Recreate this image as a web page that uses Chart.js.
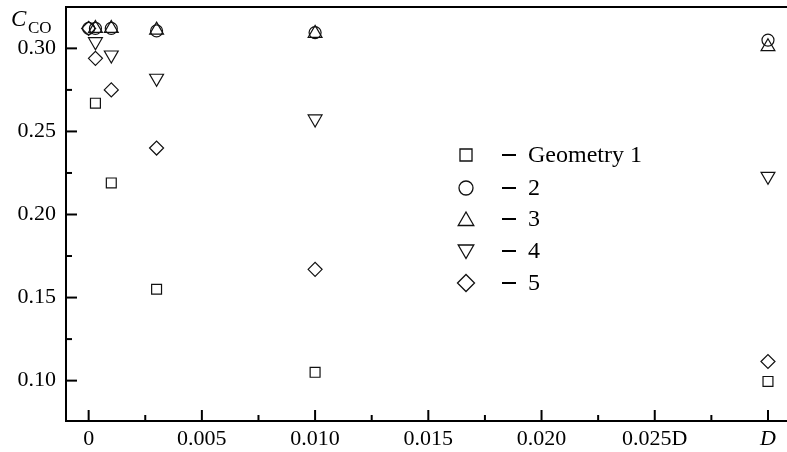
<!DOCTYPE html>
<html>
<head>
<meta charset="utf-8">
<script src="https://cdn.jsdelivr.net/npm/chart.js@4/dist/chart.umd.min.js"></script>
<style>
  html, body { margin: 0; padding: 0; background: #fff; }
  canvas { display: block; }
</style>
</head>
<body>
<canvas id="c" width="787" height="452"></canvas>
<script>
// ---- data ----
const xValues = [0, 0.0003, 0.001, 0.003, 0.010, 0.030];
const seriesLabels = ["Geometry 1", "2", "3", "4", "5"];
const geometry1 = [null, 0.267, 0.219, 0.155, 0.105, 0.0995];
const geometry2 = [0.312, 0.312, 0.312, 0.3105, 0.3095, 0.305];
const geometry3 = [null, 0.312, 0.312, 0.311, 0.309, 0.301];
const geometry4 = [null, 0.304, 0.296, 0.282, 0.2575, 0.223];
const geometry5 = [0.312, 0.294, 0.275, 0.240, 0.167, 0.1115];
const xTickValues = [0, 0.005, 0.010, 0.015, 0.020, 0.025, 0.030];
const xTickLabels = ["0", "0.005", "0.010", "0.015", "0.020", "0.025D", "D"];
const xMinorTicks = [0.0025, 0.0075, 0.0125, 0.0175, 0.0225, 0.0275];
const yTickValues = [0.10, 0.15, 0.20, 0.25, 0.30];
const yTickLabels = ["0.10", "0.15", "0.20", "0.25", "0.30"];
const yMinorTicks = [0.125, 0.175, 0.225, 0.275];

const seriesValues = [geometry1, geometry2, geometry3, geometry4, geometry5];
const styles = [
  { pointStyle: 'rect', radius: 7, rotation: 0, legendRadius: 8.5 },
  { pointStyle: 'circle', radius: 6, rotation: 0, legendRadius: 7 },
  { pointStyle: 'triangle', radius: 8, rotation: 0, legendRadius: 9 },
  { pointStyle: 'triangle', radius: 8, rotation: 180, legendRadius: 9 },
  { pointStyle: 'rectRot', radius: 7, rotation: 0, legendRadius: 8.5 }
];

const datasets = seriesValues.map((vals, i) => ({
  label: seriesLabels[i],
  data: xValues.map((x, j) => vals[j] == null ? null : { x: x, y: vals[j] }).filter(p => p),
  showLine: false,
  clip: false,
  pointStyle: styles[i].pointStyle,
  pointRadius: styles[i].radius,
  pointRotation: styles[i].rotation,
  pointBorderColor: '#111',
  pointBackgroundColor: 'rgba(0,0,0,0)',
  pointBorderWidth: 1.2,
  pointHoverRadius: styles[i].radius
}));

const SERIF = '"Liberation Serif", "DejaVu Serif", serif';

const zeroPad = s => { s.paddingTop = 0; s.paddingBottom = 0; s.paddingLeft = 0; s.paddingRight = 0; };

const decorPlugin = {
  id: 'decor',
  afterDraw(chart) {
    const ctx = chart.ctx;
    const xs = chart.scales.x, ys = chart.scales.y;
    const area = chart.chartArea;
    ctx.save();
    ctx.strokeStyle = '#000';
    ctx.lineWidth = 2;
    // inward ticks
    const tick = (x1, y1, x2, y2) => { ctx.beginPath(); ctx.moveTo(x1, y1); ctx.lineTo(x2, y2); ctx.stroke(); };
    xTickValues.forEach(v => { const p = xs.getPixelForValue(v); tick(p, area.bottom, p, area.bottom - 11); });
    xMinorTicks.forEach(v => { const p = xs.getPixelForValue(v); tick(p, area.bottom, p, area.bottom - 6); });
    yTickValues.forEach(v => { const p = ys.getPixelForValue(v); tick(area.left, p, area.left + 11, p); });
    yMinorTicks.forEach(v => { const p = ys.getPixelForValue(v); tick(area.left, p, area.left + 6, p); });

    // y-axis title C_CO
    ctx.fillStyle = '#000';
    ctx.textBaseline = 'alphabetic';
    ctx.textAlign = 'left';
    ctx.font = 'italic 23px ' + SERIF;
    ctx.fillText('C', 11, 26);
    ctx.font = '17px ' + SERIF;
    ctx.fillText('CO', 28, 33);

    // legend
    const lx = 466, dx1 = 502, dx2 = 516, tx = 528;
    const rows = [155, 188, 219, 251, 283];
    chart.data.datasets.forEach((ds, i) => {
      const y = rows[i];
      ctx.lineWidth = 1.3;
      ctx.strokeStyle = '#111';
      ctx.fillStyle = 'rgba(255,255,255,0)';
      Chart.helpers.drawPoint(ctx, {
        pointStyle: styles[i].pointStyle,
        rotation: styles[i].rotation,
        radius: styles[i].legendRadius,
        borderWidth: 1.3
      }, lx, y + (styles[i].pointStyle === 'triangle' ? (styles[i].rotation ? -1.5 : 2) : 0));
      ctx.lineWidth = 2;
      ctx.strokeStyle = '#000';
      tick(dx1, y, dx2, y);
      ctx.fillStyle = '#000';
      ctx.font = '24px ' + SERIF;
      ctx.textBaseline = 'middle';
      ctx.fillText(ds.label, tx, y + 1);
    });
    ctx.restore();
  }
};

new Chart(document.getElementById('c'), {
  type: 'scatter',
  data: { datasets: datasets },
  options: {
    responsive: false,
    animation: false,
    devicePixelRatio: 1,
    layout: { autoPadding: false, padding: { top: 7, right: 0, left: 0, bottom: 0 } },
    plugins: { legend: { display: false }, tooltip: { enabled: false } },
    scales: {
      x: {
        type: 'linear',
        position: 'bottom',
        min: -0.001,
        max: 0.03084,
        afterBuildTicks: s => { s.ticks = xTickValues.map(v => ({ value: v })); },
        afterFit: s => { s.height = 31; zeroPad(s); },
        grid: { drawOnChartArea: false, drawTicks: false },
        border: { display: true, color: '#000', width: 2 },
        ticks: {
          autoSkip: false,
          maxRotation: 0,
          padding: 5,
          color: '#000',
          font: c => ({ family: SERIF, size: 22, style: c.index === 6 ? 'italic' : 'normal' }),
          callback: (v, i) => xTickLabels[i]
        }
      },
      x2: {
        type: 'linear',
        position: 'top',
        min: -0.001,
        max: 0.03084,
        afterFit: s => { s.height = 0; zeroPad(s); },
        grid: { drawOnChartArea: false, drawTicks: false },
        border: { display: true, color: '#000', width: 2 },
        ticks: { display: false }
      },
      y: {
        type: 'linear',
        min: 0.0757,
        max: 0.3249,
        afterBuildTicks: s => { s.ticks = yTickValues.map(v => ({ value: v })); },
        afterFit: s => { s.width = 66; zeroPad(s); },
        grid: { drawOnChartArea: false, drawTicks: false },
        border: { display: true, color: '#000', width: 2 },
        ticks: {
          padding: 10,
          color: '#000',
          font: { family: SERIF, size: 22 },
          callback: (v, i) => yTickLabels[i]
        }
      }
    }
  },
  plugins: [decorPlugin]
});
</script>
</body>
</html>
